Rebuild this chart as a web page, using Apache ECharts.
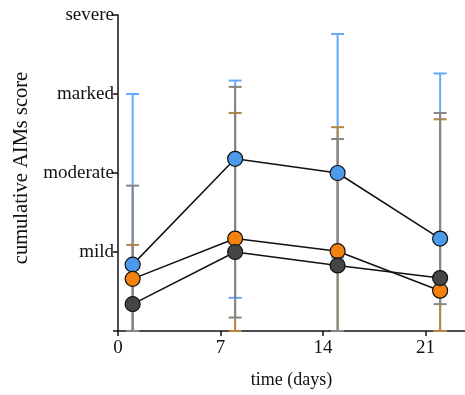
<!DOCTYPE html>
<html>
<head>
<meta charset="utf-8">
<script src="https://cdn.jsdelivr.net/npm/echarts@6/dist/echarts.min.js"></script>
<style>
  html, body { margin: 0; padding: 0; background: #fff; }
  #main { width: 465px; height: 395px; }
</style>
</head>
<body>
<div id="main"></div>
<script>
// data
var days = [1, 8, 15, 22]
var severityLabels = ['', 'mild', 'moderate', 'marked', 'severe']

var blueMean = [0.84, 2.18, 2.0, 1.17]
var blueLow = [0, 0.42, 0.93, 0]
var blueHigh = [3.0, 3.17, 3.76, 3.26]

var orangeMean = [0.66, 1.17, 1.01, 0.51]
var orangeLow = [0, 0, 0, 0]
var orangeHigh = [1.09, 2.76, 2.58, 2.68]

var greyMean = [0.34, 1.0, 0.83, 0.67]
var greyLow = [0, 0.17, 0, 0.34]
var greyHigh = [1.84, 3.09, 2.43, 2.76]

var FONT = '"Liberation Serif", "DejaVu Serif", serif'

function errData(low, high) {
  return days.map(function (d, i) { return [d, low[i], high[i]] })
}

function errSeries(low, high, color) {
  return {
    type: 'custom',
    data: errData(low, high),
    silent: true,
    z: 2,
    renderItem: function (params, api) {
      var x = api.value(0)
      var lo = api.coord([x, api.value(1)])
      var hi = api.coord([x, api.value(2)])
      var w = 6.5
      var style = { stroke: color, lineWidth: 2, fill: null }
      return {
        type: 'group',
        children: [
          { type: 'line', shape: { x1: lo[0], y1: lo[1], x2: hi[0], y2: hi[1] }, style: style },
          { type: 'line', shape: { x1: hi[0] - w, y1: hi[1], x2: hi[0] + w, y2: hi[1] }, style: style },
          { type: 'line', shape: { x1: lo[0] - w, y1: lo[1], x2: lo[0] + w, y2: lo[1] }, style: style }
        ]
      }
    }
  }
}

function meanSeries(vals, fill) {
  return {
    type: 'line',
    data: days.map(function (d, i) { return [d, vals[i]] }),
    symbol: 'circle',
    symbolSize: 15,
    z: 3,
    lineStyle: { color: '#111', width: 1.5 },
    itemStyle: { color: fill, borderColor: '#111', borderWidth: 1.2 },
    emphasis: { disabled: true }
  }
}

var myChart = echarts.init(document.getElementById('main'))

var option = {
  animation: false,
  grid: { left: 118, top: 15, right: 0, bottom: 64 },
  xAxis: {
    type: 'value',
    min: 0,
    max: 23.7,
    interval: 7,
    name: 'time (days)',
    nameLocation: 'middle',
    nameGap: 40,
    nameTextStyle: { fontFamily: FONT, fontSize: 18, color: '#111' },
    splitLine: { show: false },
    axisLine: { lineStyle: { color: '#111', width: 1.5 } },
    axisTick: { length: 5, lineStyle: { color: '#111', width: 1.5 }, customValues: [0, 7, 14, 21] },
    axisLabel: { fontFamily: FONT, fontSize: 19, color: '#111', margin: 8, customValues: [0, 7, 14, 21] }
  },
  yAxis: {
    type: 'value',
    min: 0,
    max: 4,
    interval: 1,
    name: 'cumulative AIMs score',
    nameLocation: 'middle',
    nameGap: 55,
    nameTextStyle: { fontFamily: FONT, fontSize: 20.5, color: '#111', padding: [0, 0, 0, 10] },
    splitLine: { show: false },
    axisLine: { show: true, lineStyle: { color: '#111', width: 1.5 } },
    axisTick: { show: true, length: 5, lineStyle: { color: '#111', width: 1.5 } },
    axisLabel: {
      fontFamily: FONT, fontSize: 19, color: '#111', margin: 4,
      formatter: function (v) { return severityLabels[Math.round(v)] }
    }
  },
  series: [
    errSeries(blueLow, blueHigh, '#62aaf6'),
    errSeries(orangeLow, orangeHigh, '#b5843f'),
    errSeries(greyLow, greyHigh, '#858585'),
    meanSeries(blueMean, '#4c9aec'),
    meanSeries(orangeMean, '#f4820e'),
    meanSeries(greyMean, '#454545')
  ]
}

myChart.setOption(option)
</script>
</body>
</html>
